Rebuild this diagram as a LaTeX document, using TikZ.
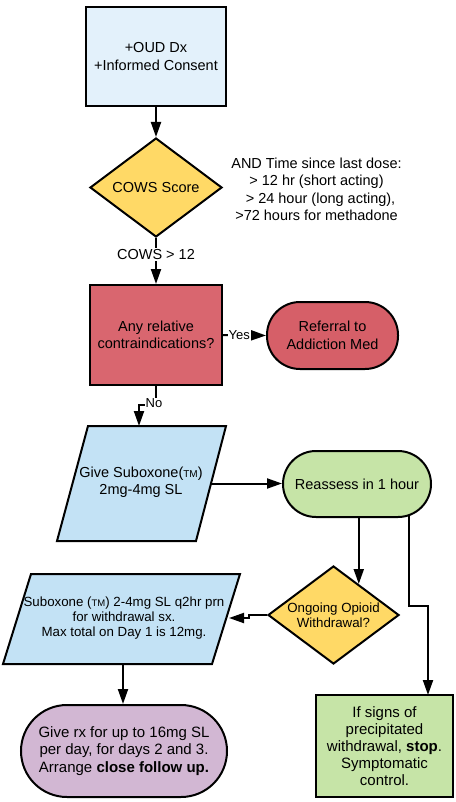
\documentclass[tikz,border=0pt]{standalone}
\usepackage{fontspec}
\setmainfont{Liberation Sans}
\usetikzlibrary{shapes.geometric,arrows.meta,calc}
\definecolor{cBoxA}{HTML}{E3F1FB}
\definecolor{cBlue}{HTML}{C3E2F5}
\definecolor{cYel}{HTML}{FFD966}
\definecolor{cRed}{HTML}{D9666F}
\definecolor{cRef}{HTML}{D65F68}
\definecolor{cGreen}{HTML}{C6E4A7}
\definecolor{cPurple}{HTML}{D2B7D3}
\begin{document}
\begin{tikzpicture}[x=1pt,y=-1pt,
  every node/.style={font=\fontsize{14.5}{17.5}\selectfont, align=center, inner sep=0pt},
  shp/.style={draw=black, line width=2pt},
  ln/.style={line width=2pt},
  arr/.style={line width=2pt, -{Triangle[length=15pt,width=10pt]}},
  lbl/.style={fill=white, inner sep=1pt},
  small/.style={font=\fontsize{13.3}{15.2}\selectfont},
  big/.style={font=\fontsize{15}{17.3}\selectfont}
]
\useasboundingbox (0,0) rectangle (455,802);
\fill[white] (0,0) rectangle (455,802);

% nodes
\node[shp, fill=cBoxA, minimum width=140pt, minimum height=99pt] (oud) at (156,56.5) {+OUD Dx\\+Informed Consent};
\node[shp, diamond, aspect=1.33, fill=cYel, minimum width=132pt, minimum height=99pt] (cows) at (156,187.5) {COWS Score};
\node (since) at (316.5,189.5) {AND Time since last dose:\\> 12 hr (short acting)\\\ \ > 24 hour (long acting),\\>72 hours for methadone};
\node[shp, fill=cRed, minimum width=132pt, minimum height=100pt] (contra) at (156,335) {Any relative\\contraindications?};
\node[shp, fill=cRef, rounded corners=33pt, minimum width=131pt, minimum height=67pt] (ref) at (332.5,335.5) {Referral to\\Addiction Med};

\filldraw[shp, fill=cBlue] (88,426) -- (226,426) -- (196,541) -- (57,541) -- cycle;
\node (give) at (141,482) {Give Suboxone({\fontsize{10}{10}\selectfont TM})\\2mg-4mg SL};
\coordinate (giveTop) at (139,426);
\coordinate (giveRight) at (211,483.5);

\node[shp, fill=cGreen, rounded corners=33pt, minimum width=148pt, minimum height=66pt] (reassess) at (357,484) {Reassess in 1 hour};

\node[shp, diamond, aspect=1.33, fill=cYel, minimum width=131pt, minimum height=98pt, small] (ongo) at (333.5,615) {Ongoing Opioid\\Withdrawal?};

\filldraw[shp, fill=cBlue] (31,574) -- (240,574) -- (212,664) -- (3,664) -- cycle;
\node[small] (sub2) at (124,618) {Suboxone ({\fontsize{9.5}{9.5}\selectfont TM}) 2-4mg SL q2hr prn\\for withdrawal sx.\\Max total on Day 1 is 12mg.};
\coordinate (sub2R) at (229,618);
\coordinate (sub2B) at (123,664);

\node[shp, fill=cPurple, rounded corners=46pt, minimum width=206pt, minimum height=92pt, big] (rx) at (124,751) {Give rx for up to 16mg SL\\per day, for days 2 and 3.\\Arrange \textbf{close follow up.}};

\node[shp, fill=cGreen, minimum width=137pt, minimum height=102pt, font=\fontsize{15}{17}\selectfont] (stopbox) at (384.5,746) {If signs of\\precipitated\\withdrawal, \textbf{stop}.\\Symptomatic\\control.};

% connectors
\draw[arr] (oud.south) -- (cows.north);
\draw[arr] (cows.south) -- node[lbl, pos=0.36] (cowslbl) {COWS > 12} (contra.north);
\draw[arr] (contra.east) -- node[lbl, pos=0.38, font=\fontsize{13}{15}\selectfont] (yeslbl) {Yes} (ref.west);

\coordinate (nobend) at (156,405);
\draw[arr] (contra.south) -- (nobend) -| (giveTop);
\node[lbl, font=\fontsize{13}{15}\selectfont] (nolbl) at (154,403.5) {No};

\draw[arr] (giveRight) -- (reassess.west |- giveRight);

\coordinate (d2hit) at ($(ongo.north)!0.38!(ongo.east)$);
\draw[arr] (d2hit |- reassess.south) -- (d2hit);

\coordinate (rsR) at (409,515);
\coordinate (bendR) at (428,606);
\coordinate (gin) at (428,695);
\draw[arr] (rsR) |- (bendR) -- (gin);

\coordinate (jogA) at (249,615);
\coordinate (jogB) at (249,618);
\draw[arr] (ongo.west) -- (jogA) -- (jogB) -- (sub2R);

\draw[arr] (sub2B) -- (sub2B |- rx.north);
\end{tikzpicture}
\end{document}
